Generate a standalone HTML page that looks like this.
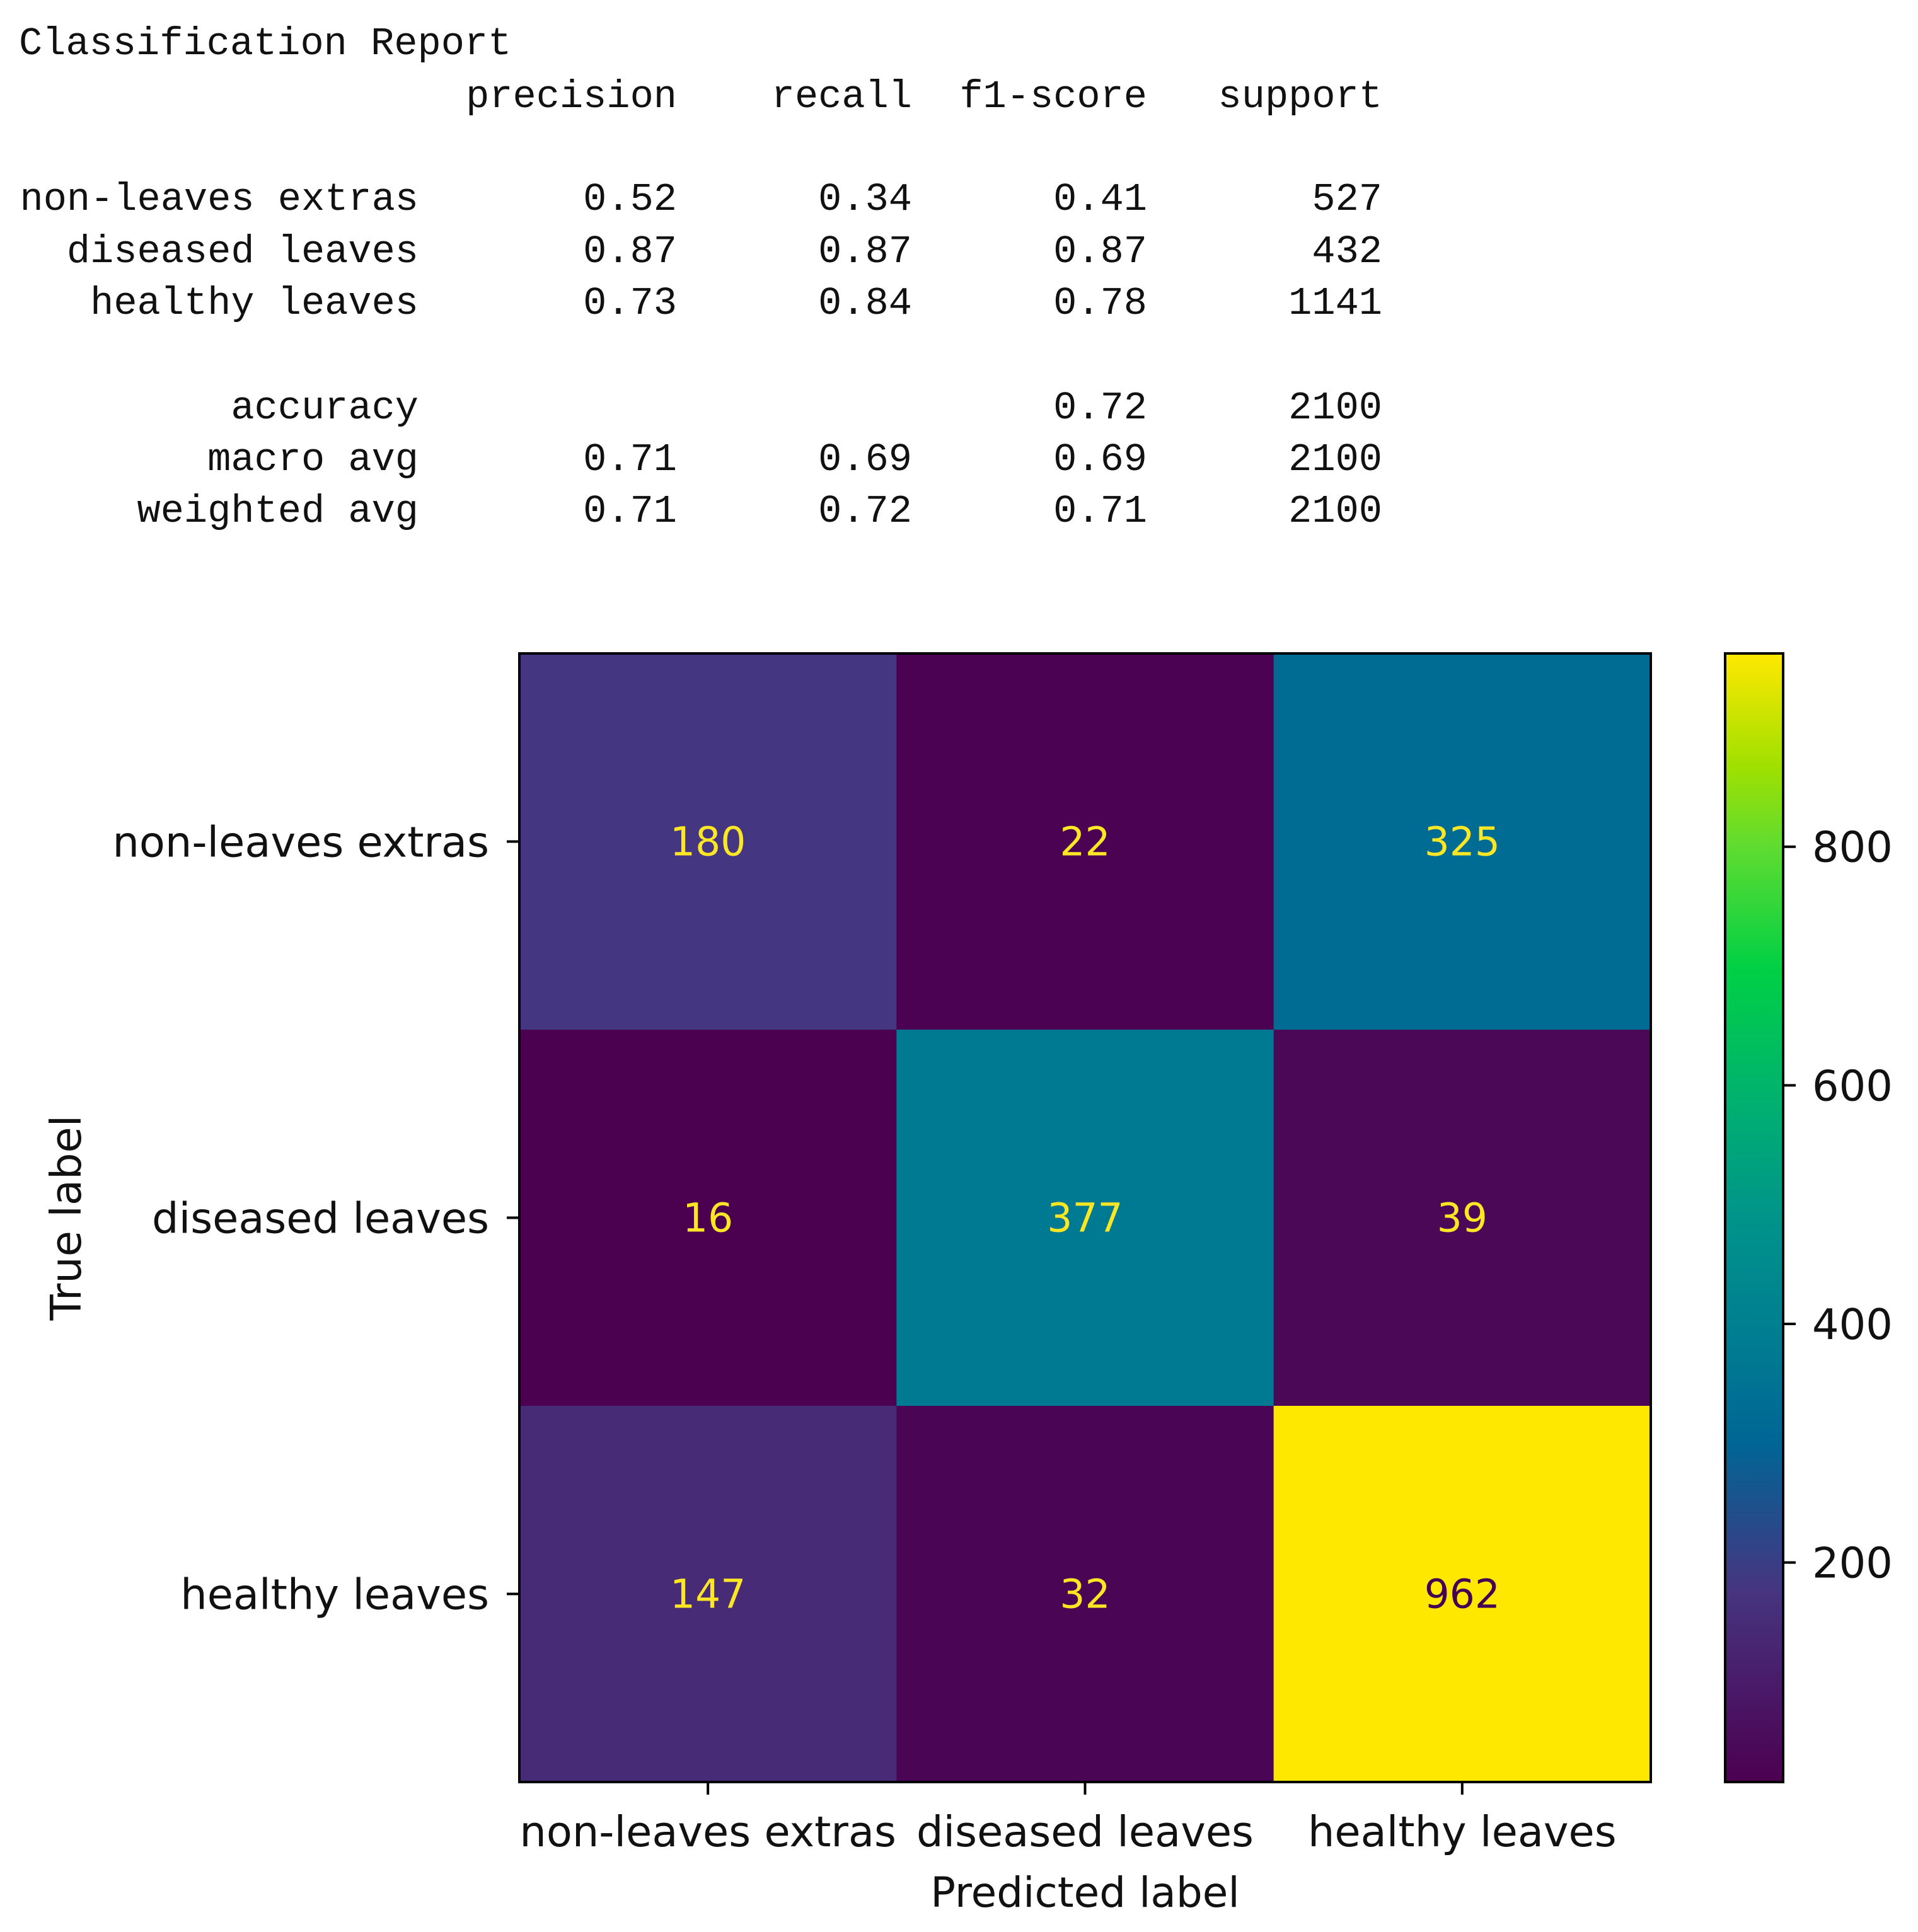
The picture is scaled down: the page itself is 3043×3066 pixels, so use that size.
<!DOCTYPE html>
<html><head><meta charset="utf-8"><style>
html,body{margin:0;padding:0;background:#fff}
svg{display:block}
.mono{font-family:"Liberation Mono",monospace;font-size:62px;fill:#111}
.sans{font-family:"DejaVu Sans","Liberation Sans",sans-serif;fill:#111}
</style></head><body>
<svg id="root" width="3043" height="3066" viewBox="0 0 3043 3066" xmlns="http://www.w3.org/2000/svg">
<g>
<text class="mono" x="30" y="86">Classification Report</text>
<g id="report"></g>
</g>
<g id="chart"></g>
</svg>
<script>
const classes = ["non-leaves extras","diseased leaves","healthy leaves"];
const matrix = [[180,22,325],[16,377,39],[147,32,962]];
const cbTicks = [200,400,600,800];
const reportHeaders = ["precision","recall","f1-score","support"];
const reportRows = ["non-leaves extras","diseased leaves","healthy leaves","","accuracy","macro avg","weighted avg"];
const reportVals = [["0.52","0.34","0.41","527"],["0.87","0.87","0.87","432"],["0.73","0.84","0.78","1141"],["","","",""],["","","0.72","2100"],["0.71","0.69","0.69","2100"],["0.71","0.72","0.71","2100"]];

const NS="http://www.w3.org/2000/svg";
function mk(tag,attrs,parent){const e=document.createElementNS(NS,tag);for(const k in attrs)e.setAttribute(k,attrs[k]);parent.appendChild(e);return e;}

const rep=document.getElementById('report');
const colRight=[1074,1447,1820,2193];
reportHeaders.forEach((h,i)=>{const t=mk('text',{class:'mono',x:colRight[i],y:170,'text-anchor':'end'},rep);t.textContent=h;

});
const rowY=[333,416,498,0,664,746,828];
reportRows.forEach((r,ri)=>{if(r==="")return;
const l=mk('text',{class:'mono',x:664,y:rowY[ri],'text-anchor':'end'},rep);l.textContent=r;


reportVals[ri].forEach((v,ci)=>{if(!v)return;const t=mk('text',{class:'mono',x:colRight[ci],y:rowY[ri],'text-anchor':'end'},rep);t.textContent=v;

});});

const stops=[[0,[76,0,80]],[0.17,[70,53,128]],[0.3,[0,101,149]],[0.38,[0,122,146]],[0.5,[0,148,138]],[0.6,[0,176,112]],[0.72,[0,208,69]],[0.83,[96,220,48]],[0.9,[160,224,0]],[1,[255,232,0]]];
function cmap(t){t=Math.max(0,Math.min(1,t));for(let i=1;i<stops.length;i++){if(t<=stops[i][0]){const a=stops[i-1],b=stops[i];const f=(t-a[0])/(b[0]-a[0]);const c=a[1].map((v,k)=>Math.round(v+(b[1][k]-v)*f));return `rgb(${c.join(',')})`;}}return 'rgb(255,232,0)';}

const ch=document.getElementById('chart');
const L=824,R=2619,T=1037,B=2828;
const n=classes.length,cw=(R-L)/n,chh=(B-T)/n;
const flat=matrix.flat(),vmin=Math.min(...flat),vmax=Math.max(...flat);
const xC=i=>L+cw*(i+0.5), yC=i=>T+chh*(i+0.5);
matrix.forEach((row,r)=>row.forEach((v,c)=>{
const rect=mk('rect',{x:L+cw*c,y:T+chh*r,width:cw+0.5,height:chh+0.5,fill:cmap((v-vmin)/(vmax-vmin))},ch);


const t=mk('text',{class:'sans',x:xC(c),y:yC(r)+22,'text-anchor':'middle','font-size':63,style:'fill:'+((v-vmin)/(vmax-vmin)>0.5?'#440154':'#fde725')},ch);t.textContent=v;


}));
const frame=mk('rect',{x:L,y:T,width:R-L,height:B-T,fill:'none',stroke:'#000','stroke-width':4},ch);


classes.forEach((c,i)=>{
mk('line',{x1:xC(i),x2:xC(i),y1:B,y2:B+20,stroke:'#000','stroke-width':4},ch);
const xt=mk('text',{class:'sans',x:xC(i),y:2930,'text-anchor':'middle','font-size':67},ch);xt.textContent=c;


mk('line',{x1:L-20,x2:L,y1:yC(i),y2:yC(i),stroke:'#000','stroke-width':4},ch);
const yt=mk('text',{class:'sans',x:L-48,y:yC(i)+24,'text-anchor':'end','font-size':67},ch);yt.textContent=c;


});
const xl=mk('text',{class:'sans',x:(L+R)/2,y:3026,'text-anchor':'middle','font-size':66},ch);xl.textContent='Predicted label';


const yl=mk('text',{class:'sans',x:0,y:0,'text-anchor':'middle','font-size':67,transform:`translate(128,${(T+B)/2}) rotate(-90)`},ch);yl.textContent='True label';



const CL=2737,CR=2829;
const defs=mk('defs',{},ch);
const g=mk('linearGradient',{id:'cbg',x1:0,y1:1,x2:0,y2:0},defs);
stops.forEach(s=>mk('stop',{offset:s[0],'stop-color':`rgb(${s[1].join(',')})`},g));
const cb=mk('rect',{x:CL,y:T,width:CR-CL,height:B-T,fill:'url(#cbg)',stroke:'#000','stroke-width':4},ch);


const cy=v=>B-(v-vmin)/(vmax-vmin)*(B-T);
cbTicks.forEach(v=>{
mk('line',{x1:CR,x2:CR+20,y1:cy(v),y2:cy(v),stroke:'#000','stroke-width':4},ch);
const t=mk('text',{class:'sans',x:CR+46,y:cy(v)+24,'font-size':67},ch);t.textContent=v;


});
</script>
</body></html>
